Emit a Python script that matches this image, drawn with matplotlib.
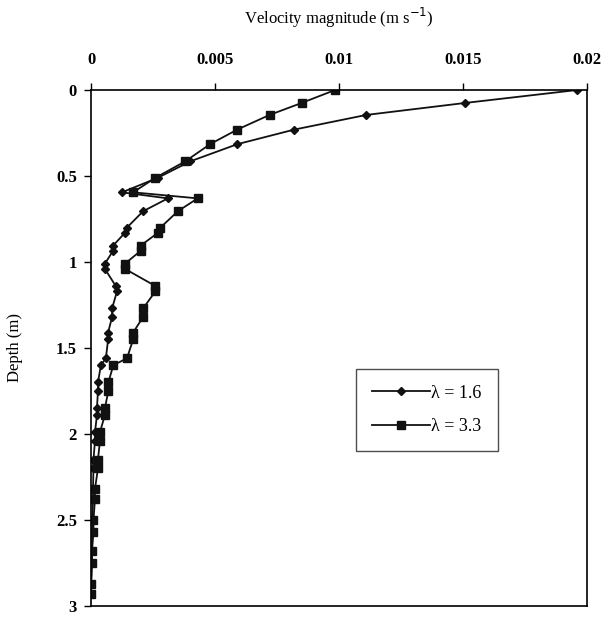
import matplotlib
matplotlib.use("Agg")
import matplotlib.pyplot as plt

depth = [0, 0.075, 0.145, 0.23, 0.315, 0.415, 0.51, 0.595, 0.63, 0.705,
         0.80, 0.83, 0.905, 0.935, 1.01, 1.04, 1.14, 1.17, 1.27, 1.32,
         1.41, 1.45, 1.56, 1.60, 1.70, 1.75, 1.85, 1.89, 1.99, 2.04,
         2.15, 2.20, 2.32, 2.38, 2.50, 2.57, 2.68, 2.75, 2.87, 2.93]

vel_16 = [0.0196, 0.0151, 0.0111, 0.0082, 0.0059, 0.0040, 0.0027, 0.00125, 0.0031, 0.0021,
          0.00145, 0.00137, 0.00089, 0.00089, 0.00056, 0.00056, 0.0010, 0.00105, 0.00085, 0.00085,
          0.00069, 0.00069, 0.0006, 0.0004, 0.00028, 0.00028, 0.00024, 0.00024, 0.00016, 0.00016,
          0.0001, 0.0001, 0.00008, 0.00008, 0.00005, 0.00005, 0.00003, 0.00003, 0.00001, 0.00001]

vel_33 = [0.00984, 0.0085, 0.0072, 0.0059, 0.0048, 0.0038, 0.0026, 0.0017, 0.0043, 0.0035,
          0.0028, 0.0027, 0.0020, 0.0020, 0.00137, 0.00137, 0.0026, 0.0026, 0.0021, 0.0021,
          0.0017, 0.0017, 0.00145, 0.0009, 0.0007, 0.0007, 0.00056, 0.00056, 0.00036, 0.00036,
          0.00028, 0.00028, 0.00016, 0.00016, 0.0001, 0.0001, 0.00004, 0.00004, 0.0, 0.0]

labels = ["\u03bb = 1.6", "\u03bb = 3.3"]
xticks = [0, 0.005, 0.01, 0.015, 0.02]
xticklabels = ["0", "0.005", "0.01", "0.015", "0.02"]
yticks = [0, 0.5, 1, 1.5, 2, 2.5, 3]
yticklabels = ["0", "0.5", "1", "1.5", "2", "2.5", "3"]

plt.rcParams['font.family'] = ['Liberation Serif', 'DejaVu Serif']

fig = plt.figure(figsize=(6.07, 6.17), dpi=100)
ax = fig.add_axes([91/607, 1 - 606/617, 496/607, 516/617])

ax.plot(vel_16, depth, color='#111111', lw=1.3, marker='D', ms=4, label=labels[0])
ax.plot(vel_33, depth, color='#111111', lw=1.3, marker='s', ms=6, label=labels[1])

ax.set_xlim(0, 0.02)
ax.set_ylim(3, 0)
ax.xaxis.tick_top()
ax.xaxis.set_label_position('top')
ax.set_xticks(xticks)
ax.set_xticklabels(xticklabels, fontweight='bold', fontsize=12)
ax.set_yticks(yticks)
ax.set_yticklabels(yticklabels, fontweight='bold', fontsize=12)
ax.tick_params(axis='x', direction='out', length=5, width=1, pad=11)
ax.tick_params(axis='y', direction='out', length=5, width=1, pad=5)
for s in ax.spines.values():
    s.set_linewidth(1.2)

ax.set_xlabel("Velocity magnitude (m s$^{-1}$)", fontsize=12, labelpad=20)
ax.set_ylabel("Depth (m)", fontsize=12, labelpad=24)

leg = ax.legend(loc='center', bbox_to_anchor=(0.677, 0.38), fontsize=13,
                frameon=True, fancybox=False, edgecolor='#222222',
                handlelength=3.2, borderpad=0.9, labelspacing=0.9, handletextpad=0.1)
leg.get_frame().set_linewidth(1.0)

fig.savefig("out.png", dpi=100, facecolor='white')
